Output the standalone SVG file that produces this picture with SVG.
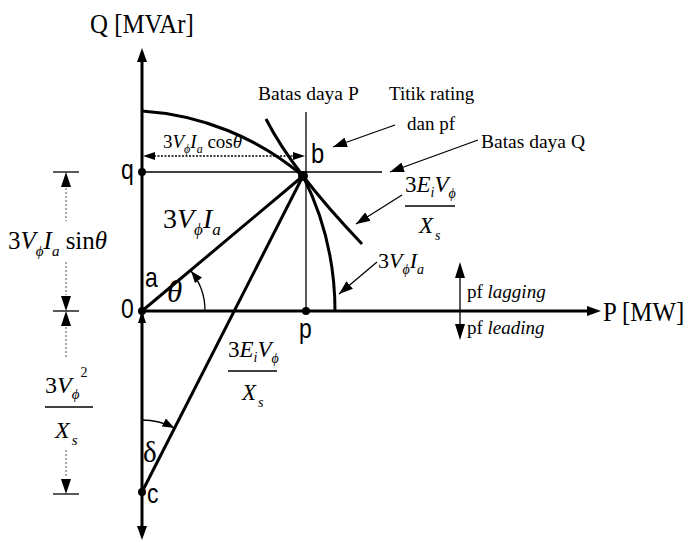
<svg xmlns="http://www.w3.org/2000/svg" width="688" height="543" viewBox="0 0 688 543">
<style>
.thick{stroke:#000;stroke-width:3;fill:none}
.thin{stroke:#000;stroke-width:1.3;fill:none}
.dim{stroke:#8a8a8a;stroke-width:1.5;stroke-dasharray:2 2;fill:none}
.dotb{stroke:#000;stroke-width:1.3;stroke-dasharray:2 1.5;fill:none}
.ah{fill:#000;stroke:none}
.pt{fill:#000}
.sans{font-family:"Liberation Sans",Arial,sans-serif;font-size:28px;fill:#000}
.serif{font-family:"Liberation Serif","Times New Roman",serif;fill:#000}
.it{font-style:italic}
</style>
<defs>
<marker id="arr" viewBox="0 0 14 10" refX="14" refY="5" markerWidth="14" markerHeight="10" markerUnits="userSpaceOnUse" orient="auto">
<path d="M0,0 L14,5 L0,10 z" fill="#000"/>
</marker>
<marker id="arrs" viewBox="0 0 12 9" refX="12" refY="4.5" markerWidth="12" markerHeight="9" markerUnits="userSpaceOnUse" orient="auto">
<path d="M0,0 L12,4.5 L0,9 z" fill="#000"/>
</marker>
</defs>

<g id="axes">
<line class="thick" x1="142" y1="60" x2="142" y2="528"/>
<polygon class="ah" points="142,48 137,62 147,62"/>
<polygon class="ah" points="142,540 137,526 147,526"/>
<line class="thick" x1="142" y1="311" x2="589" y2="311"/>
<polygon class="ah" points="601,311 587,306 587,316"/>
<text class="serif" x="90" y="33" font-size="27" transform="translate(90,33) scale(0.92,1) translate(-90,-33)">Q [MVAr]</text>
<text class="serif" x="603" y="321" font-size="27" transform="translate(603,321) scale(0.92,1) translate(-603,-321)">P [MW]</text>
</g>

<g id="connectors">
<line class="thin" x1="142" y1="172" x2="382" y2="172"/>
<line class="thin" x1="306" y1="112" x2="306" y2="311"/>
<path class="thick" d="M142,111 A276,276 0 0 1 303,176"/>
<path class="thick" d="M303,176 A301,301 0 0 1 335,311"/>
<path class="thick" d="M266,119 Q292,170.5 362,244"/>
<line class="thick" x1="142" y1="311" x2="303" y2="176"/>
<line class="thick" x1="142" y1="492" x2="303" y2="176"/>
<polygon class="ah" points="142,311 138,323 146,323"/>
<path class="thin" d="M205,311 A63,63 0 0 0 191,271" marker-end="url(#arrs)"/>
<path class="thin" d="M142,420 A72,72 0 0 1 174.5,428" marker-end="url(#arrs)"/>
<line class="dotb" x1="154" y1="156" x2="294" y2="156"/>
<polygon class="ah" points="143,156 155,152 155,160"/>
<polygon class="ah" points="305,156 293,152 293,160"/>
<line class="thin" x1="395" y1="125" x2="333" y2="147" marker-end="url(#arr)"/>
<line class="thin" x1="478" y1="140" x2="390" y2="172" marker-end="url(#arr)"/>
<line class="thin" x1="402" y1="195" x2="356" y2="224" marker-end="url(#arr)"/>
<line class="thin" x1="377" y1="262" x2="339" y2="294" marker-end="url(#arr)"/>
<line class="thin" x1="460" y1="275" x2="460" y2="328"/>
<polygon class="ah" points="460,262 455,278 465,278"/>
<polygon class="ah" points="460,340 455,324 465,324"/>
</g>

<g id="dimension">
<line class="thin" x1="53" y1="172" x2="79" y2="172"/>
<line class="thin" x1="53" y1="311" x2="79" y2="311"/>
<line class="thin" x1="53" y1="494" x2="79" y2="494"/>
<polygon class="ah" points="66,172 61,187 71,187"/>
<polygon class="ah" points="66,311 61,296 71,296"/>
<polygon class="ah" points="66,311 61,326 71,326"/>
<polygon class="ah" points="66,494 61,479 71,479"/>
<line class="dim" x1="66" y1="188" x2="66" y2="221"/>
<line class="dim" x1="66" y1="262" x2="66" y2="295"/>
<line class="dim" x1="66" y1="327" x2="66" y2="358"/>
<line class="dim" x1="66" y1="450" x2="66" y2="478"/>
<text class="serif" x="8" y="249" font-size="25">3<tspan class="it">V</tspan><tspan class="it" font-size="15" dy="7">ϕ</tspan><tspan class="it" dy="-7">I</tspan><tspan class="it" font-size="15" dy="7">a</tspan><tspan dy="-7"> sin</tspan><tspan class="it">θ</tspan></text>
<text class="serif" x="45" y="393" font-size="24">3<tspan class="it">V</tspan><tspan class="it" font-size="15" dy="6">ϕ</tspan><tspan font-size="14" dx="1" dy="-22">2</tspan></text>
<line class="thin" x1="45" y1="407" x2="93" y2="407"/>
<text class="serif it" x="55" y="438" font-size="24">X<tspan font-size="15" dx="2" dy="7">s</tspan></text>
</g>

<g id="node-0">
<circle class="pt" cx="142" cy="311" r="4"/>
<text class="sans" transform="translate(121,318) scale(0.82,1)">0</text>
</g>
<g id="node-a">
<text class="sans" transform="translate(145,287) scale(0.82,1)">a</text>
</g>
<g id="node-q">
<circle class="pt" cx="142" cy="172" r="4"/>
<text class="sans" transform="translate(121,179) scale(0.82,1)">q</text>
</g>
<g id="node-b">
<circle class="pt" cx="303" cy="176" r="5"/>
<text class="sans" transform="translate(311,163) scale(0.85,1)" font-size="30">b</text>
</g>
<g id="node-p">
<circle class="pt" cx="306" cy="311" r="4"/>
<text class="sans" transform="translate(299,338) scale(0.82,1)">p</text>
</g>
<g id="node-c">
<circle class="pt" cx="142" cy="492" r="4"/>
<text class="sans" transform="translate(147,503) scale(0.82,1)">c</text>
</g>

<g id="labels">
<text class="serif it" x="167" y="302" font-size="31">θ</text>
<text class="serif" x="143" y="462" font-size="29">δ</text>
<text class="serif" x="163" y="228" font-size="28">3<tspan class="it">V</tspan><tspan class="it" font-size="17" dy="7">ϕ</tspan><tspan class="it" dy="-7">I</tspan><tspan class="it" font-size="17" dy="7">a</tspan></text>
<text class="serif" x="163" y="148" font-size="19">3<tspan class="it">V</tspan><tspan class="it" font-size="12" dy="5">ϕ</tspan><tspan class="it" dy="-5">I</tspan><tspan class="it" font-size="12" dy="5">a</tspan><tspan dy="-5"> cos</tspan><tspan class="it">θ</tspan></text>
<text class="serif" x="378" y="268" font-size="22">3<tspan class="it">V</tspan><tspan class="it" font-size="14" dy="6">ϕ</tspan><tspan class="it" dy="-6">I</tspan><tspan class="it" font-size="14" dy="6">a</tspan></text>
<text class="serif" x="405" y="192" font-size="23">3<tspan class="it">E</tspan><tspan class="it" font-size="14" dy="5">i</tspan><tspan class="it" dy="-5">V</tspan><tspan class="it" font-size="14" dy="6">ϕ</tspan></text>
<line class="thin" x1="405" y1="206" x2="455" y2="206"/>
<text class="serif it" x="419" y="233" font-size="23">X<tspan font-size="14" dx="2" dy="7">s</tspan></text>
<text class="serif" x="228" y="357" font-size="23">3<tspan class="it">E</tspan><tspan class="it" font-size="14" dy="5">i</tspan><tspan class="it" dy="-5">V</tspan><tspan class="it" font-size="14" dy="6">ϕ</tspan></text>
<line class="thin" x1="228" y1="371" x2="277" y2="371"/>
<text class="serif it" x="242" y="400" font-size="23">X<tspan font-size="14" dx="2" dy="7">s</tspan></text>
<text class="serif" x="258" y="100" font-size="19.5">Batas daya P</text>
<text class="serif" x="389" y="100" font-size="19">Titik rating</text>
<text class="serif" x="407" y="130" font-size="19">dan pf</text>
<text class="serif" x="481" y="148" font-size="19.5">Batas daya Q</text>
<text class="serif" x="467" y="298" font-size="19">pf <tspan class="it">lagging</tspan></text>
<text class="serif" x="467" y="334" font-size="19">pf <tspan class="it">leading</tspan></text>
</g>
</svg>
